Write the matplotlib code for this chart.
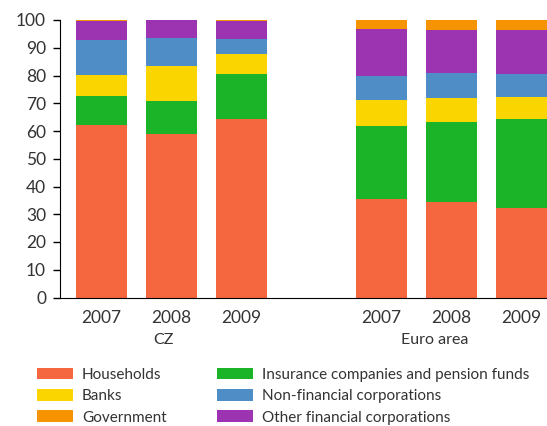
import matplotlib
matplotlib.use("Agg")
import matplotlib.pyplot as plt
import numpy as np

plt.rcParams['font.family'] = ['Lato', 'DejaVu Sans']

years = ["2007", "2008", "2009", "2007", "2008", "2009"]
groups = ["CZ", "Euro area"]
positions = [0, 1, 2, 4, 5, 6]

series_names = ["Households", "Insurance companies and pension funds", "Banks",
                "Non-financial corporations", "Other financial corporations", "Government"]
households = [62.0, 59.0, 64.4, 35.4, 34.5, 32.3]
insurance = [10.6, 11.8, 16.1, 26.4, 28.7, 32.0]
banks = [7.6, 12.6, 7.3, 9.3, 8.7, 7.9]
nonfin = [12.6, 10.2, 5.3, 8.7, 9.0, 8.4]
otherfin = [6.9, 6.4, 6.6, 16.9, 15.5, 15.8]
government = [0.3, 0.0, 0.3, 3.3, 3.6, 3.6]

colors = {
    "Households": "#F4673F",
    "Insurance companies and pension funds": "#1BB327",
    "Banks": "#FBD500",
    "Non-financial corporations": "#4F8DC7",
    "Other financial corporations": "#9C33B0",
    "Government": "#F59300",
}
data = [households, insurance, banks, nonfin, otherfin, government]

fig = plt.figure(figsize=(5.47, 4.26), dpi=100)
ax = fig.add_axes([60/547, 1-297.5/426, 487/547, (297.5-20)/426])

bottom = np.zeros(len(positions))
bars = {}
for name, vals in zip(series_names, data):
    b = ax.bar(positions, vals, width=0.725, bottom=bottom, color=colors[name],
               label=name, zorder=2)
    bars[name] = b
    bottom += np.array(vals)

ax.set_xlim(-0.59, 6.36)
ax.set_ylim(0, 100)
ax.set_yticks(range(0, 101, 10))
ax.set_xticks(positions)
ax.set_xticklabels(years)
ax.tick_params(axis='x', length=0, pad=9, labelsize=12.5, labelcolor='#333333')
ax.tick_params(axis='y', length=5, width=1, pad=5, labelsize=12.5, labelcolor='#333333')
for s in ['top', 'right']:
    ax.spines[s].set_visible(False)
ax.spines['left'].set_color('black')
ax.spines['bottom'].set_color('black')

fig.text(163/547, 1-340/426, groups[0], ha='center', va='center', fontsize=11.5, color='#333333')
fig.text(435/547, 1-340/426, groups[1], ha='center', va='center', fontsize=11.5, color='#333333')

col1 = ["Households", "Banks", "Government"]
col2 = ["Insurance companies and pension funds", "Non-financial corporations",
        "Other financial corporations"]
common = dict(loc='upper left', ncol=1, frameon=False, borderpad=0, borderaxespad=0,
              handlelength=2.35, handleheight=0.78, handletextpad=0.59,
              labelspacing=0.47, fontsize=11, labelcolor='#333333')
leg1 = fig.legend([bars[n] for n in col1], col1, bbox_to_anchor=(37/547, 1-368/426), **common)
leg2 = fig.legend([bars[n] for n in col2], col2, bbox_to_anchor=(217/547, 1-368/426), **common)

fig.savefig("out.png", dpi=100)
